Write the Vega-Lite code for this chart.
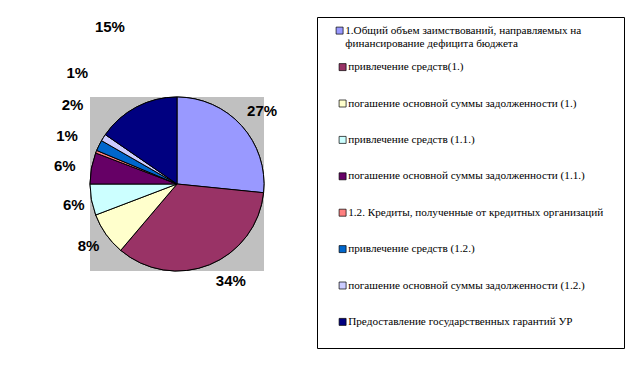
{
  "$schema": "https://vega.github.io/schema/vega-lite/v6.json",
  "width": 174,
  "height": 174,
  "autosize": {"type": "none"},
  "padding": {"left": 90, "top": 97, "right": 378, "bottom": 97},
  "background": "white",
  "view": {"fill": "#c0c0c0", "stroke": null},
  "data": {"values": [
    {"order": 1, "category": "1.Общий объем заимствований, направляемых на финансирование дефицита бюджета", "value": 26.6, "label": "27%"},
    {"order": 2, "category": "привлечение средств(1.)", "value": 34.6, "label": "34%"},
    {"order": 3, "category": "погашение основной суммы задолженности (1.)", "value": 8.0, "label": "8%"},
    {"order": 4, "category": "привлечение средств (1.1.)", "value": 5.8, "label": "6%"},
    {"order": 5, "category": "погашение основной суммы задолженности (1.1.)", "value": 5.8, "label": "6%"},
    {"order": 6, "category": "1.2. Кредиты, полученные от кредитных организаций", "value": 0.5, "label": "1%"},
    {"order": 7, "category": "привлечение средств (1.2.)", "value": 2.0, "label": "2%"},
    {"order": 8, "category": "погашение основной суммы задолженности (1.2.)", "value": 1.3, "label": "1%"},
    {"order": 9, "category": "Предоставление государственных гарантий УР", "value": 15.4, "label": "15%"}
  ]},
  "encoding": {
    "theta": {"field": "value", "type": "quantitative", "stack": true},
    "order": {"field": "order", "type": "quantitative"}
  },
  "layer": [
    {
      "mark": {"type": "arc", "stroke": "black", "strokeWidth": 1, "outerRadius": 87},
      "encoding": {
        "color": {
          "field": "category",
          "type": "nominal",
          "scale": {
            "domain": ["1.Общий объем заимствований, направляемых на финансирование дефицита бюджета"],
            "range": ["#9999ff"]
          },
          "legend": {
            "orient": "none",
            "legendX": 244,
            "legendY": -72,
            "title": null,
            "symbolType": "square",
            "symbolSize": 49,
            "symbolStrokeColor": "black",
            "symbolStrokeWidth": 0.7,
            "symbolOffset": 0,
            "labelOffset": 0,
            "labelFont": "Liberation Serif",
            "labelFontSize": 11.2,
            "labelColor": "black",
            "labelLimit": 400,
            "labelBaseline": "middle",
            "labelExpr": "['1.Общий объем заимствований, направляемых на', 'финансирование дефицита бюджета']",
            "padding": 0
          }
        }
      }
    },
    {
      "mark": {"type": "arc", "stroke": "black", "strokeWidth": 1, "outerRadius": 87},
      "encoding": {
        "fill": {
          "field": "category",
          "type": "nominal",
          "scale": {
            "domain": [
              "1.Общий объем заимствований, направляемых на финансирование дефицита бюджета",
              "привлечение средств(1.)",
              "погашение основной суммы задолженности (1.)",
              "привлечение средств (1.1.)",
              "погашение основной суммы задолженности (1.1.)",
              "1.2. Кредиты, полученные от кредитных организаций",
              "привлечение средств (1.2.)",
              "погашение основной суммы задолженности (1.2.)",
              "Предоставление государственных гарантий УР"
            ],
            "range": ["#9999ff", "#993366", "#ffffcc", "#ccffff", "#660066", "#ff8080", "#0066cc", "#ccccff", "#000080"]
          },
          "legend": {
            "values": [
              "привлечение средств(1.)",
              "погашение основной суммы задолженности (1.)",
              "привлечение средств (1.1.)",
              "погашение основной суммы задолженности (1.1.)",
              "1.2. Кредиты, полученные от кредитных организаций",
              "привлечение средств (1.2.)",
              "погашение основной суммы задолженности (1.2.)",
              "Предоставление государственных гарантий УР"
            ],
            "orient": "none",
            "legendX": 227,
            "legendY": -80,
            "title": " ",
            "titleOrient": "top",
            "titleFontSize": 1,
            "titlePadding": 23.5,
            "symbolType": "square",
            "symbolSize": 49,
            "symbolStrokeColor": "black",
            "symbolStrokeWidth": 0.7,
            "symbolOffset": 0,
            "labelOffset": 0,
            "labelFont": "Liberation Serif",
            "labelFontSize": 11.2,
            "labelColor": "black",
            "labelLimit": 400,
            "labelBaseline": "middle",
            "labelExpr": "datum.label + '\u00a0\u00a0\u00a0\u00a0\u00a0\u00a0'",
            "rowPadding": 24.4,
            "padding": 20,
            "strokeColor": "black"
          }
        }
      }
    },
    {
      "mark": {"type": "text", "radius": 112, "dx": 2, "dy": 2, "font": "Liberation Sans", "fontSize": 15, "fontWeight": "bold"},
      "encoding": {"text": {"condition": {"test": "datum.order == 1", "field": "label"}, "value": ""}}
    },
    {
      "mark": {"type": "text", "radius": 112, "dx": 12, "dy": -7, "font": "Liberation Sans", "fontSize": 15, "fontWeight": "bold"},
      "encoding": {"text": {"condition": {"test": "datum.order == 2", "field": "label"}, "value": ""}}
    },
    {
      "mark": {"type": "text", "radius": 112, "dx": 3, "dy": -3, "font": "Liberation Sans", "fontSize": 15, "fontWeight": "bold"},
      "encoding": {"text": {"condition": {"test": "datum.order == 3", "field": "label"}, "value": ""}}
    },
    {
      "mark": {"type": "text", "radius": 112, "dx": 7, "dy": 1, "font": "Liberation Sans", "fontSize": 15, "fontWeight": "bold"},
      "encoding": {"text": {"condition": {"test": "datum.order == 4", "field": "label"}, "value": ""}}
    },
    {
      "mark": {"type": "text", "radius": 112, "dx": -2, "dy": 2, "font": "Liberation Sans", "fontSize": 15, "fontWeight": "bold"},
      "encoding": {"text": {"condition": {"test": "datum.order == 5", "field": "label"}, "value": ""}}
    },
    {
      "mark": {"type": "text", "radius": 112, "dx": -6, "dy": -6, "font": "Liberation Sans", "fontSize": 15, "fontWeight": "bold"},
      "encoding": {"text": {"condition": {"test": "datum.order == 6", "field": "label"}, "value": ""}}
    },
    {
      "mark": {"type": "text", "radius": 112, "dx": -4, "dy": -29, "font": "Liberation Sans", "fontSize": 15, "fontWeight": "bold"},
      "encoding": {"text": {"condition": {"test": "datum.order == 7", "field": "label"}, "value": ""}}
    },
    {
      "mark": {"type": "text", "radius": 112, "dx": -5, "dy": -51, "font": "Liberation Sans", "fontSize": 15, "fontWeight": "bold"},
      "encoding": {"text": {"condition": {"test": "datum.order == 8", "field": "label"}, "value": ""}}
    },
    {
      "mark": {"type": "text", "radius": 112, "dx": -15, "dy": -58, "font": "Liberation Sans", "fontSize": 15, "fontWeight": "bold"},
      "encoding": {"text": {"condition": {"test": "datum.order == 9", "field": "label"}, "value": ""}}
    }
  ]
}
